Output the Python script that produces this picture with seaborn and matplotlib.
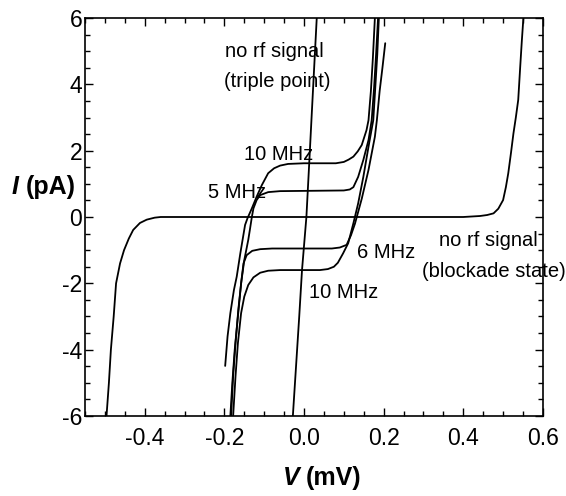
import matplotlib
matplotlib.use("Agg")
import matplotlib.pyplot as plt
import seaborn as sns
from matplotlib.ticker import MultipleLocator, FormatStrFormatter

# I-V curves: V in mV, I in pA

# no rf signal, blockade state
blockade_v = [-0.496, -0.490, -0.485, -0.478, -0.472, -0.462, -0.452, -0.440, -0.429,
              -0.412, -0.395, -0.375, -0.360, 0.0, 0.400, 0.442, 0.460, 0.476, 0.488,
              0.500, 0.507, 0.513, 0.520, 0.526, 0.532, 0.538, 0.543, 0.547, 0.551]
blockade_i = [-6.0, -5.0, -4.0, -3.0, -2.0, -1.4, -1.0, -0.65, -0.39,
              -0.18, -0.08, -0.02, 0.0, 0.0, 0.0, 0.03, 0.06, 0.11, 0.25,
              0.51, 0.9, 1.32, 1.95, 2.52, 3.0, 3.53, 4.53, 5.3, 6.0]

# no rf signal, triple point
triple_v = [-0.028, -0.012, -0.005, 0.006, 0.013, 0.019, 0.032]
triple_i = [-6.0, -3.0, -1.6, 0.0, 1.6, 3.0, 6.0]

# 10 MHz, positive plateau
f10_up_v = [-0.198, -0.192, -0.185, -0.176, -0.169, -0.160, -0.148, -0.142, -0.131,
            -0.119, -0.106, -0.090, -0.075, -0.060, -0.040, 0.0, 0.080, 0.100, 0.112,
            0.124, 0.135, 0.145, 0.157, 0.162, 0.168, 0.173, 0.178]
f10_up_i = [-4.49, -3.6, -2.9, -2.2, -1.8, -1.1, -0.24, -0.04, 0.26,
            0.61, 0.96, 1.32, 1.47, 1.55, 1.6, 1.62, 1.62, 1.66, 1.73,
            1.82, 1.98, 2.17, 2.62, 2.92, 3.8, 4.8, 6.0]

# 5 MHz
f5_v = [-0.185, -0.180, -0.174, -0.166, -0.158, -0.150, -0.140, -0.136, -0.131,
        -0.127, -0.119, -0.110, -0.090, -0.060, 0.100, 0.115, 0.124, 0.136, 0.149,
        0.162, 0.170, 0.176, 0.181, 0.186]
f5_i = [-6.0, -5.0, -4.0, -3.0, -2.0, -1.3, -0.69, -0.39, 0.0,
        0.26, 0.51, 0.66, 0.75, 0.78, 0.8, 0.83, 0.9, 1.21, 1.72,
        2.32, 2.92, 3.9, 4.9, 6.0]

# 6 MHz
f6_v = [-0.183, -0.178, -0.172, -0.165, -0.157, -0.152, -0.144, -0.130, -0.110,
        -0.080, 0.070, 0.090, 0.107, 0.118, 0.128, 0.145, 0.162, 0.178, 0.183,
        0.190, 0.197, 0.204]
f6_i = [-6.0, -4.8, -3.8, -2.8, -1.9, -1.4, -1.15, -1.02, -0.97,
        -0.95, -0.95, -0.92, -0.84, -0.55, -0.2, 0.55, 1.42, 2.42, 2.92,
        3.8, 4.5, 5.24]

# 10 MHz, negative plateau
f10_dn_v = [-0.178, -0.172, -0.166, -0.158, -0.150, -0.140, -0.127, -0.110, -0.090,
            -0.060, 0.040, 0.060, 0.075, 0.085, 0.098, 0.111, 0.124, 0.136, 0.149,
            0.162, 0.174, 0.179, 0.184, 0.188]
f10_dn_i = [-6.0, -4.8, -3.8, -2.9, -2.4, -2.05, -1.82, -1.68, -1.62,
            -1.6, -1.6, -1.57, -1.5, -1.38, -1.1, -0.79, -0.19, 0.41, 1.21,
            2.12, 2.92, 3.9, 4.9, 6.0]

curves = [(blockade_v, blockade_i), (triple_v, triple_i), (f10_up_v, f10_up_i),
          (f5_v, f5_i), (f6_v, f6_i), (f10_dn_v, f10_dn_i)]

sns.set_theme(style="ticks")
plt.rcParams['font.family'] = ['Liberation Sans', 'DejaVu Sans']
plt.rcParams['axes.unicode_minus'] = False
plt.rcParams['text.color'] = 'black'
plt.rcParams['xtick.color'] = 'black'
plt.rcParams['ytick.color'] = 'black'
plt.rcParams['xtick.labelcolor'] = 'black'
plt.rcParams['ytick.labelcolor'] = 'black'

fig = plt.figure(figsize=(5.66, 4.96), dpi=100)
ax = fig.add_axes([0.1502, 0.1613, 0.809, 0.8024])

for v, i in curves:
    sns.lineplot(x=v, y=i, ax=ax, sort=False, estimator=None, color='black', lw=1.3)

ax.set_xlim(-0.55, 0.6)
ax.set_ylim(-6, 6)
ax.xaxis.set_major_locator(MultipleLocator(0.2))
ax.xaxis.set_minor_locator(MultipleLocator(0.05))
ax.yaxis.set_major_locator(MultipleLocator(2))
ax.yaxis.set_minor_locator(MultipleLocator(0.5))
ax.xaxis.set_major_formatter(FormatStrFormatter('%.1f'))
ax.tick_params(which='both', direction='in', top=True, right=True, color='black', width=1)
ax.tick_params(which='major', length=6)
ax.tick_params(which='minor', length=3.5)
ax.tick_params(axis='x', which='major', labelsize=16.5, pad=8, labelcolor='black')
ax.tick_params(axis='y', which='major', labelsize=16.5, pad=2, labelcolor='black')
for s in ax.spines.values():
    s.set_color('black')
    s.set_linewidth(1.2)

# curve labels
lab = dict(fontsize=14.5, color='black')
ax.text(-0.074, 4.81, 'no rf signal', ha='center', va='baseline', **lab)
ax.text(-0.068, 3.91, '(triple point)', ha='center', va='baseline', **lab)
ax.text(0.464, -0.87, 'no rf signal', ha='center', va='baseline', **lab)
ax.text(0.476, -1.82, '(blockade state)', ha='center', va='baseline', **lab)
ax.text(-0.065, 1.72, '10 MHz', ha='center', va='baseline', **lab)
ax.text(-0.168, 0.57, '5 MHz', ha='center', va='baseline', **lab)
ax.text(0.206, -1.24, '6 MHz', ha='center', va='baseline', **lab)
ax.text(0.100, -2.44, '10 MHz', ha='center', va='baseline', **lab)

# axis labels
fig.text(12 / 566, 1 - 187 / 496, 'I', fontsize=18, fontweight='bold', style='italic',
         ha='left', va='center', color='black')
fig.text(26 / 566, 1 - 187 / 496, '(pA)', fontsize=18, fontweight='bold',
         ha='left', va='center', color='black')
fig.text(283 / 566, 1 - 478 / 496, 'V', fontsize=18, fontweight='bold', style='italic',
         ha='left', va='center', color='black')
fig.text(306 / 566, 1 - 478 / 496, '(mV)', fontsize=18, fontweight='bold',
         ha='left', va='center', color='black')

fig.savefig('out.png', dpi=100)
